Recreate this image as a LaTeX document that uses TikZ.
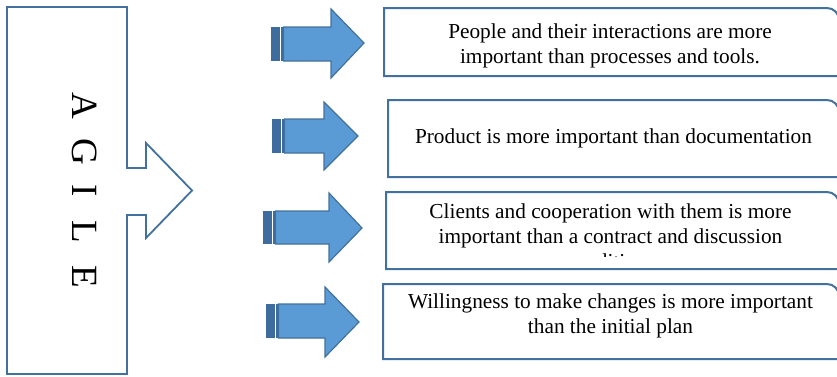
\documentclass[tikz,border=0pt]{standalone}
\usepackage{fontspec}
\setmainfont{Liberation Serif}
\usetikzlibrary{calc}
\definecolor{lineblue}{RGB}{65,113,156}
\definecolor{fillblue}{RGB}{91,155,213}
\definecolor{stripeblue}{RGB}{62,108,158}
\tikzset{
  shapeline/.style={draw=lineblue, line width=1.8pt, line join=miter},
  arrowline/.style={draw=lineblue, fill=fillblue, line width=1.2pt, line join=miter},
  frame/.style={inner sep=0pt, outer sep=0pt},
  boxline/.style={draw=lineblue, line width=2pt},
  boxtext/.style={align=center, inner sep=0pt, font=\fontsize{21.3}{25}\selectfont},
}
% tail x, shaft top, shaft bottom, head x, head top, head bottom, tip x, tip y
\newcommand\myblockarr[8]{%
  \fill[stripeblue] (#1,#2) rectangle ({#1+9},#3);
  \fill[stripeblue] ({#1+10},#2) rectangle ({#1+12.5},#3);
  \draw[arrowline] ({#1+12.5},#2) -- (#4,#2) -- (#4,#5) -- (#7,#8) -- (#4,#6) -- (#4,#3) -- ({#1+12.5},#3) -- cycle;
}
\newcommand\mycardoutline[1]{%
  \draw[boxline] (#1.south east) -- (#1.south west) -- (#1.north west)
    -- ([xshift=-12pt]#1.north east) arc[start angle=90, end angle=0, radius=12pt]
    -- (#1.south east);
}
\begin{document}
\begin{tikzpicture}[x=1pt,y=-1pt]
\clip (0,0) rectangle (837,376);
% left AGILE shape
\node[frame, minimum width=120pt, minimum height=367pt] (agile) at (67,190.5) {};
\draw[shapeline] (agile.north east) -- ($(agile.east)+(0,-22.5)$) -- ++(19,0) -- ++(0,-25)
  -- ($(agile.east)+(65,0)$) -- ($(agile.east)+(19,47.5)$) -- ++(0,-23)
  -- ($(agile.east)+(0,24.5)$) -- (agile.south east) -- (agile.south west)
  -- (agile.north west) -- cycle;
\node[rotate=-90, anchor=base west, inner sep=0pt, font=\fontsize{37}{40}\selectfont] (agiletext)
  at (72,92) {A\kern20pt G\kern19pt I\kern24pt L\kern22pt E};
% block arrows
\myblockarr{271}{27}{61}{331}{9}{78}{364}{43}
\myblockarr{272}{119}{153}{324}{102}{170}{358}{136}
\myblockarr{263}{211}{244}{329}{193}{262}{362}{228}
\myblockarr{266}{304}{338}{325}{287}{357}{359}{322}
% boxes
\node[frame, minimum width=455pt, minimum height=68pt] (b1) at (611.5,42) {};
\node[frame, minimum width=451pt, minimum height=77pt] (b2) at (613.5,138.5) {};
\node[frame, minimum width=453pt, minimum height=77pt] (b3) at (612.5,230.5) {};
\node[frame, minimum width=456pt, minimum height=75pt] (b4) at (611,321.5) {};
\mycardoutline{b1}
\mycardoutline{b2}
\mycardoutline{b3}
\mycardoutline{b4}
\node[boxtext] (t1) at (610,45.5) {People and their interactions are more\\important than processes and tools.};
\node[boxtext] (t2) at (613.5,138) {Product is more important than documentation};
\begin{scope}
\clip (b3.north west) rectangle ([yshift=12.5pt]b3.south east);
\node[boxtext] (t3) at (610.5,236.5) {Clients and cooperation with them is more\\important than a contract and discussion\\conditions};
\end{scope}
\node[boxtext] (t4) at (610.5,315.5) {Willingness to make changes is more important\\than the initial plan};
\end{tikzpicture}
\end{document}
